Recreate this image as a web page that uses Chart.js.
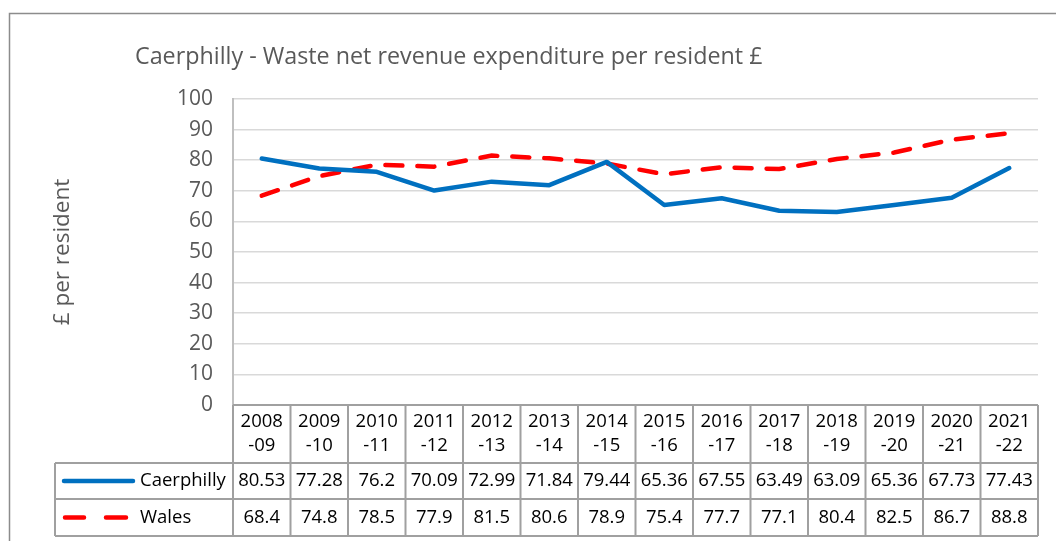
<!DOCTYPE html>
<html>
<head>
<meta charset="utf-8">
<script src="https://cdn.jsdelivr.net/npm/chart.js@4/dist/chart.umd.min.js"></script>
<style>
  html, body { margin: 0; padding: 0; background: #fff; }
  #wrap { width: 1056px; height: 541px; position: relative; }
</style>
</head>
<body>
<div id="wrap"><canvas id="chart" width="1056" height="541"></canvas></div>
<script>
var years = ["2008", "2009", "2010", "2011", "2012", "2013", "2014", "2015", "2016", "2017", "2018", "2019", "2020", "2021"];
var yearEnds = ["-09", "-10", "-11", "-12", "-13", "-14", "-15", "-16", "-17", "-18", "-19", "-20", "-21", "-22"];
var caerphilly = [80.53, 77.28, 76.2, 70.09, 72.99, 71.84, 79.44, 65.36, 67.55, 63.49, 63.09, 65.36, 67.73, 77.43];
var wales = [68.4, 74.8, 78.5, 77.9, 81.5, 80.6, 78.9, 75.4, 77.7, 77.1, 80.4, 82.5, 86.7, 88.8];
var titleText = "Caerphilly - Waste net revenue expenditure per resident £";

var fontName = "'Open Sans', Lato, sans-serif";

var ctx = document.getElementById("chart").getContext("2d");
ctx.canvas.width = 1056;
ctx.canvas.height = 541;

// draws the title, outer frame and the data table under the plot
var tablePlugin = {
  id: "dataTable",
  afterDraw: function (chart) {
    var c = chart.ctx;
    var x = chart.scales.x;
    var area = chart.chartArea;
    var left = area.left, right = area.right, top = area.bottom;
    var headBottom = top + 58;
    var row1Bottom = headBottom + 36;
    var row2Bottom = row1Bottom + 37;
    var legLeft = 55;
    var colW = (right - left) / years.length;

    c.save();
    // outer frame
    c.strokeStyle = "#8c8c8c";
    c.lineWidth = 1.5;
    c.strokeRect(9.5, 13.5, 1200, 600);

    // title
    c.fillStyle = "#595959";
    c.font = "23.3px " + fontName;
    c.textAlign = "left";
    c.textBaseline = "middle";
    c.fillText(titleText, 135, 57);

    // table grid
    c.strokeStyle = "#a0a0a0";
    c.lineWidth = 2;
    c.beginPath();
    c.moveTo(left, top); c.lineTo(right, top);
    c.moveTo(legLeft, headBottom); c.lineTo(right, headBottom);
    c.moveTo(legLeft, row1Bottom); c.lineTo(right, row1Bottom);
    c.moveTo(legLeft, row2Bottom); c.lineTo(right, row2Bottom);
    c.moveTo(legLeft, headBottom); c.lineTo(legLeft, row2Bottom);
    for (var i = 0; i <= years.length; i++) {
      var gx = left + i * colW;
      c.moveTo(gx, top); c.lineTo(gx, row2Bottom);
    }
    c.stroke();

    // header & values
    c.fillStyle = "#000";
    c.font = "18.5px " + fontName;
    c.textAlign = "center";
    for (var j = 0; j < years.length; j++) {
      var cx = x.getPixelForValue(j);
      c.fillText(years[j], cx, top + 17);
      c.fillText(yearEnds[j], cx, top + 41);
      c.fillText(String(caerphilly[j]), cx, (headBottom + row1Bottom) / 2);
      c.fillText(String(wales[j]), cx, (row1Bottom + row2Bottom) / 2);
    }

    // legend keys
    var y1 = (headBottom + row1Bottom) / 2;
    var y2 = (row1Bottom + row2Bottom) / 2;
    c.lineCap = "round";
    c.lineWidth = 4.5;
    c.strokeStyle = "#0070C0";
    c.beginPath(); c.moveTo(64, y1); c.lineTo(133, y1); c.stroke();
    c.strokeStyle = "#FF0000";
    c.beginPath(); c.moveTo(65, y2); c.lineTo(84, y2); c.moveTo(106, y2); c.lineTo(126, y2); c.stroke();
    c.textAlign = "left";
    c.fillStyle = "#000";
    c.fillText("Caerphilly", 140, y1);
    c.fillText("Wales", 140, y2);
    c.restore();
  }
};

var chart = new Chart(ctx, {
  type: "line",
  data: {
    labels: years.map(function (y, i) { return y + yearEnds[i]; }),
    datasets: [
      {
        label: "Caerphilly",
        data: caerphilly,
        borderColor: "#0070C0",
        borderWidth: 4.5,
        pointRadius: 0,
        tension: 0,
        borderCapStyle: "round",
        borderJoinStyle: "round"
      },
      {
        label: "Wales",
        data: wales,
        borderColor: "#FF0000",
        borderWidth: 4.5,
        borderDash: [17, 15],
        borderCapStyle: "round",
        pointRadius: 0,
        tension: 0
      }
    ]
  },
  options: {
    responsive: false,
    animation: false,
    devicePixelRatio: 1,
    layout: { padding: { left: 45, top: 99, right: 18, bottom: 136 } },
    plugins: {
      legend: { display: false },
      title: { display: false },
      tooltip: { enabled: false }
    },
    scales: {
      x: {
        display: false,
        offset: true
      },
      y: {
        min: 0,
        max: 100,
        afterFit: function (s) { s.width = 188; },
        ticks: {
          stepSize: 10,
          padding: 20,
          color: "#595959",
          font: { size: 21, family: fontName }
        },
        grid: { color: "#d9d9d9", lineWidth: 1.5, drawTicks: false },
        border: { display: true, color: "#bfbfbf", width: 2 },
        title: {
          display: true,
          text: "£ per resident",
          color: "#595959",
          font: { size: 22.5, family: fontName },
          padding: 4
        }
      }
    }
  },
  plugins: [tablePlugin]
});
</script>
</body>
</html>
